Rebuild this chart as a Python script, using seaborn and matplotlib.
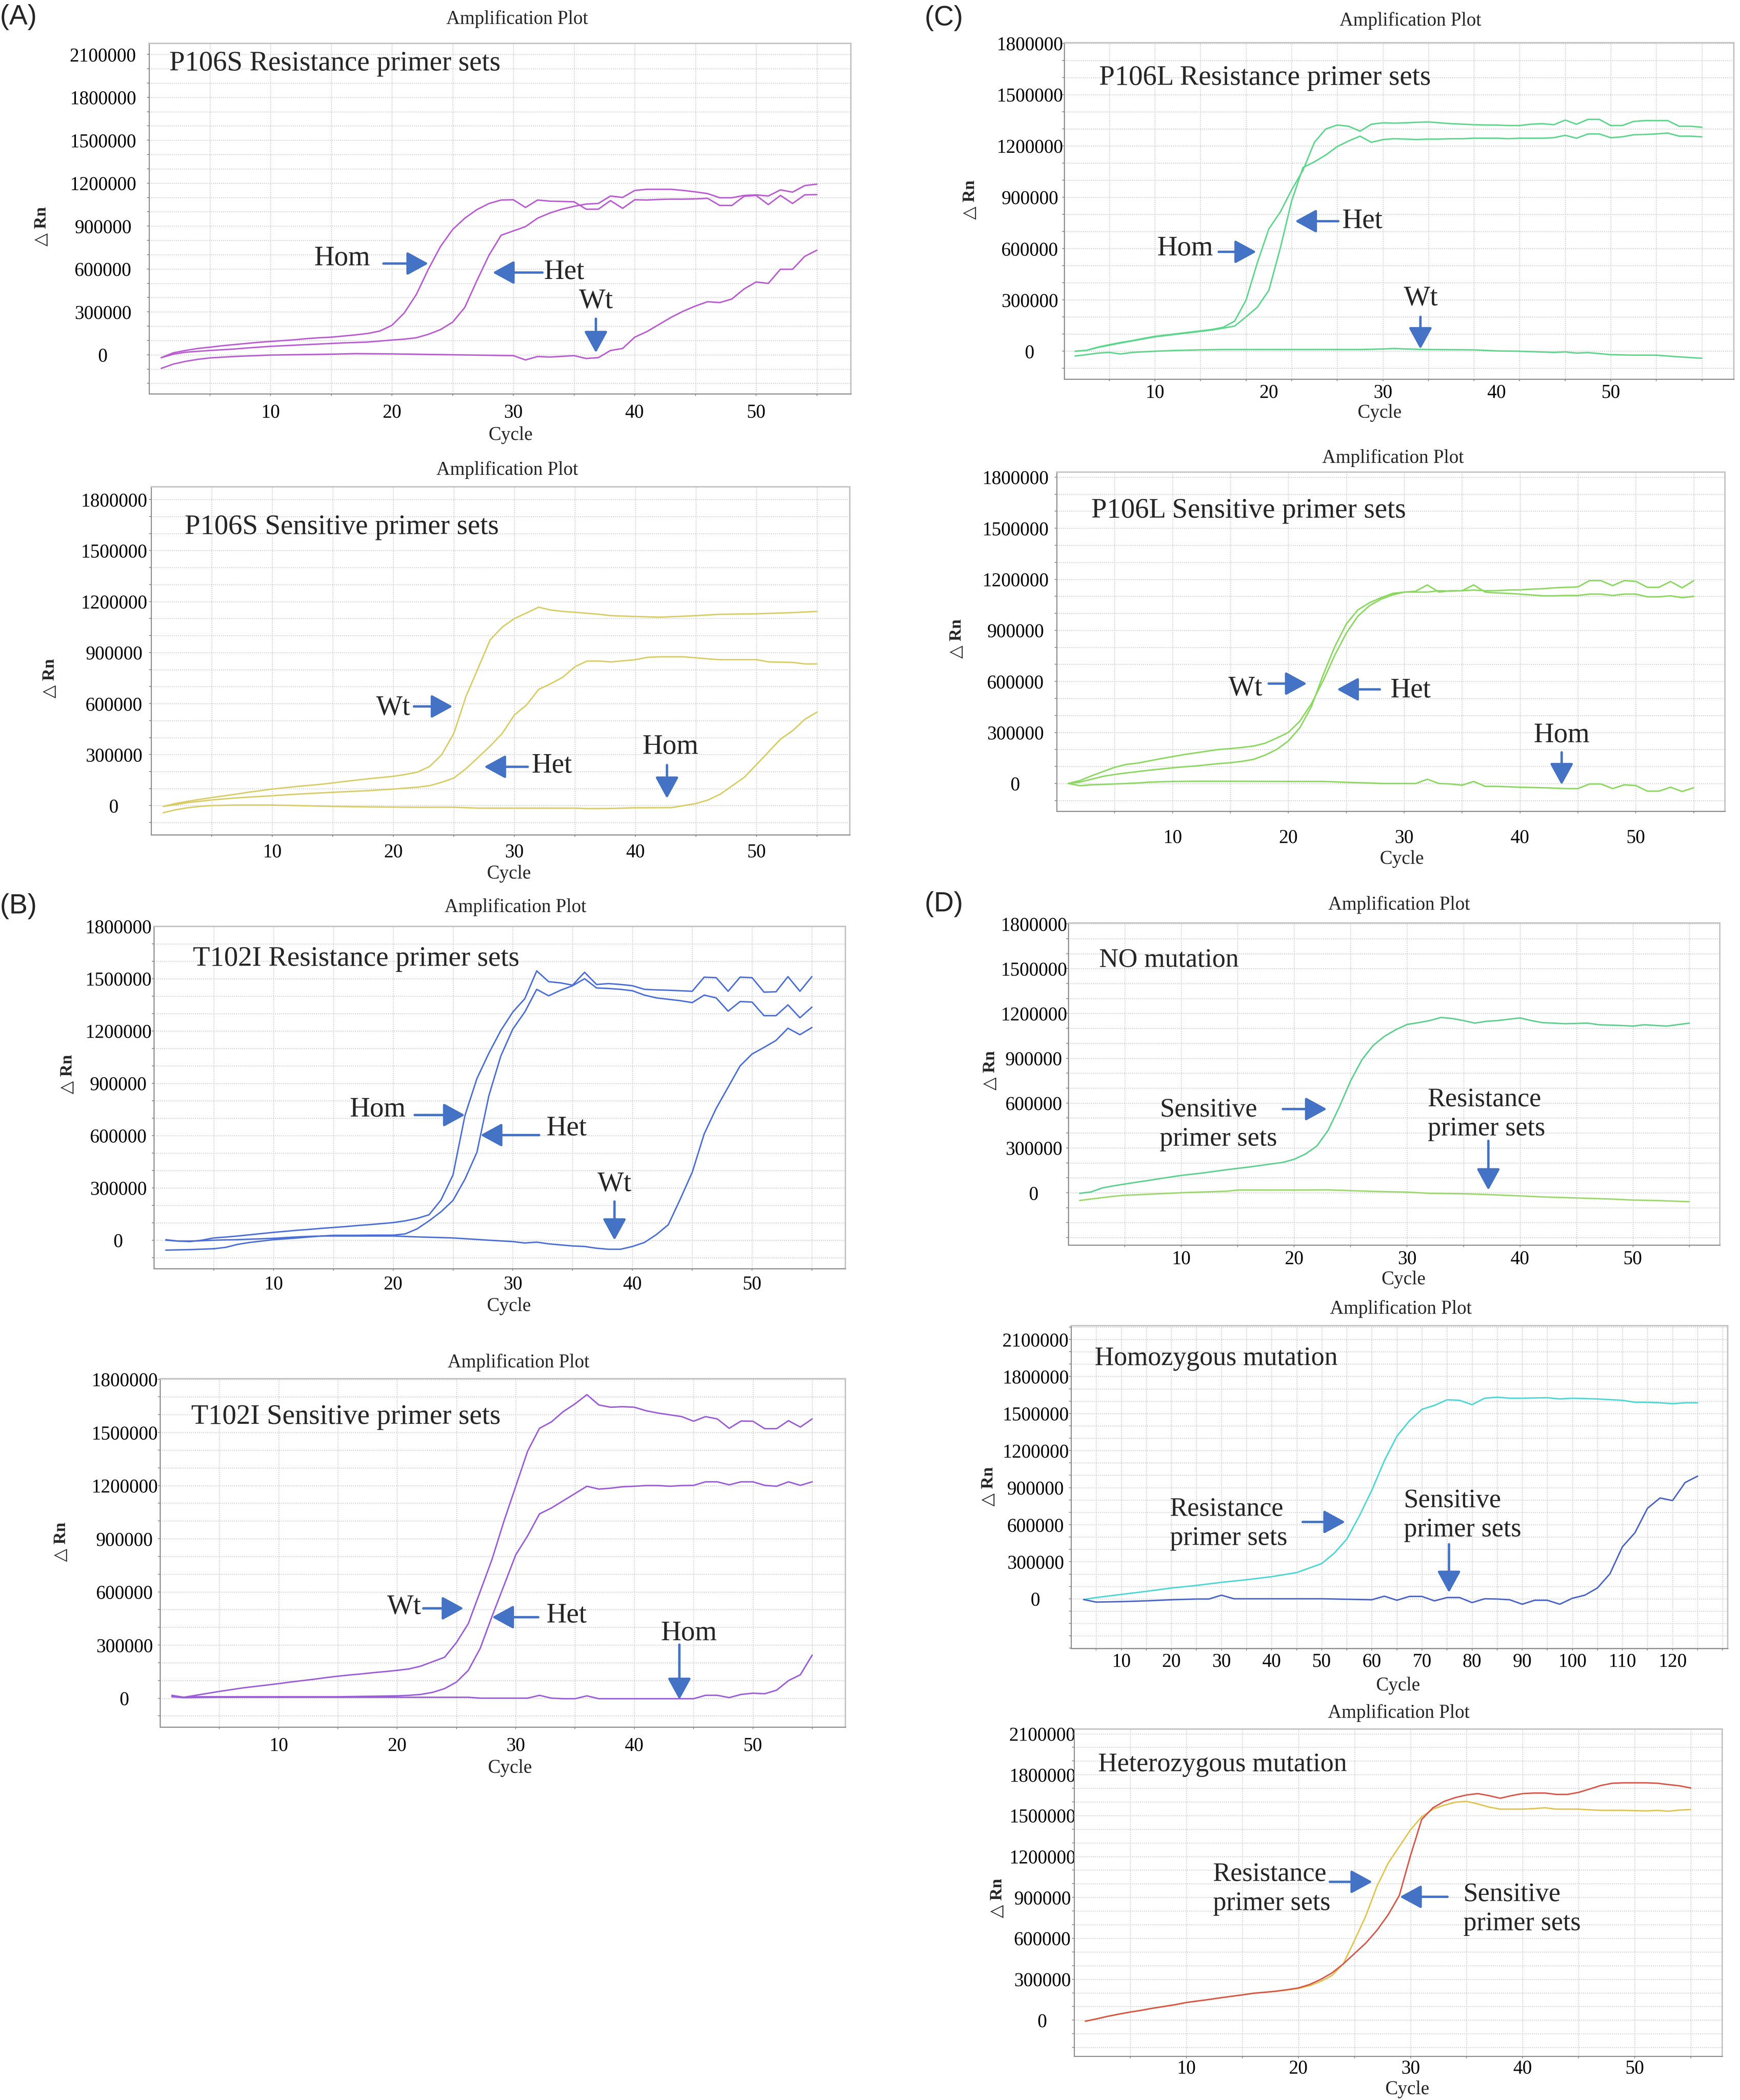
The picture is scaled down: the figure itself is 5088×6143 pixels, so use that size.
import numpy as np
import pandas as pd
import matplotlib
matplotlib.use("Agg")
import matplotlib.pyplot as plt
import seaborn as sns

W, H = 5088, 6143
DPI = 100
PT = 72.0 / DPI   # points per pixel

# ---------------- data ----------------
# (A) P106S resistance primer sets
a1_cyc = list(range(1, 56))
a1_hom = [-20000, 14000, 30000, 44000, 53000, 63000, 71000, 79000, 87000, 93000,
          99000, 105000, 113000, 119000, 123000, 131000, 139000, 149000, 166000, 206000,
          291000, 420000, 598000, 757000, 876000, 955000, 1015000, 1058000, 1082000, 1084000,
          1030000, 1082000, 1074000, 1072000, 1070000, 1018000, 1018000, 1078000, 1024000, 1084000,
          1082000, 1086000, 1088000, 1088000, 1090000, 1094000, 1044000, 1044000, 1108000, 1114000,
          1050000, 1114000, 1058000, 1118000, 1120000]
a1_het = [-20000, 4000, 18000, 24000, 30000, 35000, 40000, 47000, 53000, 59000,
          63000, 67000, 71000, 75000, 79000, 83000, 86000, 89000, 96000, 103000,
          109000, 119000, 143000, 176000, 228000, 331000, 519000, 697000, 836000, 866000,
          896000, 955000, 991000, 1018000, 1038000, 1054000, 1058000, 1110000, 1100000, 1149000,
          1157000, 1157000, 1157000, 1149000, 1139000, 1127000, 1098000, 1098000, 1114000, 1118000,
          1110000, 1153000, 1137000, 1183000, 1193000]
a1_wt_cyc = [1, 2, 3, 4, 5, 7, 10, 15, 17, 20, 25, 30, 31, 32, 33, 35, 36, 37, 38, 39,
             40, 41, 42, 43, 44, 45, 46, 47, 48, 49, 50, 51, 52, 53, 54, 55]
a1_wt = [-95000, -65000, -46000, -32000, -22000, -12000, -2000, 4000, 8000, 6000,
         0, -6000, -36000, -12000, -16000, -6000, -26000, -20000, 30000, 44000,
         123000, 162000, 212000, 262000, 305000, 341000, 371000, 365000, 390000, 460000,
         509000, 499000, 598000, 598000, 688000, 731000]

# (A) P106S sensitive primer sets
a2_wt_cyc = [1, 2, 3, 5, 7, 8, 10, 12, 14, 15, 16, 18, 20, 21, 22, 23, 24, 25, 26, 27,
             28, 29, 30, 31, 32, 33, 34, 35, 37, 38, 40, 42, 45, 47, 50, 53, 55]
a2_wt = [-5000, 12000, 25000, 47000, 67000, 78000, 97000, 112000, 125000, 133000,
         142000, 158000, 172000, 183000, 197000, 230000, 300000, 425000, 642000, 808000,
         975000, 1050000, 1100000, 1133000, 1167000, 1150000, 1142000, 1137000, 1125000, 1117000,
         1112000, 1108000, 1117000, 1125000, 1128000, 1135000, 1142000]
a2_het_cyc = [1, 2, 3, 5, 7, 10, 12, 15, 18, 20, 22, 23, 24, 25, 26, 27, 28, 29, 30, 31,
              32, 33, 34, 35, 36, 37, 38, 40, 41, 42, 44, 46, 47, 49, 50, 51, 53, 54, 55]
a2_het = [-5000, 5000, 17000, 33000, 45000, 58000, 67000, 78000, 88000, 97000,
          108000, 117000, 137000, 162000, 217000, 283000, 350000, 425000, 533000, 592000,
          683000, 717000, 755000, 817000, 850000, 850000, 845000, 858000, 872000, 875000,
          875000, 863000, 858000, 858000, 858000, 845000, 842000, 833000, 833000]
a2_hom_cyc = [1, 2, 3, 4, 5, 7, 10, 12, 15, 18, 22, 25, 27, 30, 35, 36, 38, 40, 43, 44,
              45, 46, 47, 48, 49, 50, 51, 52, 53, 54, 55]
a2_hom = [-42000, -25000, -13000, -5000, 0, 3000, 3000, 0, -5000, -8000,
          -10000, -10000, -15000, -15000, -15000, -18000, -17000, -13000, -12000, 0,
          12000, 33000, 67000, 117000, 167000, 242000, 317000, 392000, 442000, 508000, 550000]

# (B) T102I resistance primer sets
b1_cyc = list(range(1, 56))
b1_hom = [3000, -5000, -8000, 0, 13000, 18000, 24000, 31000, 38000, 45000,
          51000, 57000, 62000, 68000, 73000, 78000, 84000, 89000, 95000, 101000,
          111000, 125000, 146000, 231000, 374000, 715000, 927000, 1073000, 1203000, 1309000,
          1385000, 1545000, 1483000, 1476000, 1463000, 1537000, 1467000, 1472000, 1467000, 1460000,
          1439000, 1436000, 1434000, 1431000, 1428000, 1509000, 1506000, 1428000, 1509000, 1506000,
          1423000, 1425000, 1512000, 1428000, 1512000]
b1_het = [0, -5000, -5000, -3000, 0, 2000, 3000, 6000, 8000, 11000,
          15000, 19000, 22000, 24000, 28000, 28000, 28000, 29000, 29000, 29000,
          36000, 65000, 111000, 163000, 228000, 350000, 504000, 829000, 1057000, 1211000,
          1309000, 1439000, 1402000, 1434000, 1460000, 1500000, 1447000, 1444000, 1439000, 1431000,
          1406000, 1390000, 1382000, 1374000, 1363000, 1406000, 1390000, 1314000, 1369000, 1366000,
          1288000, 1288000, 1350000, 1276000, 1337000]
b1_wt_cyc = [1, 3, 5, 6, 7, 8, 10, 12, 14, 18, 20, 22, 25, 28, 30, 31, 32, 33, 35, 36,
             37, 38, 39, 40, 41, 42, 43, 44, 45, 46, 47, 48, 49, 50, 51, 52, 53, 54, 55]
b1_wt = [-57000, -54000, -49000, -41000, -24000, -13000, 3000, 13000, 24000, 24000,
         24000, 19000, 13000, 0, -8000, -16000, -11000, -21000, -33000, -36000,
         -46000, -52000, -52000, -36000, -13000, 32000, 89000, 236000, 390000, 610000,
         756000, 878000, 1000000, 1068000, 1106000, 1146000, 1216000, 1179000, 1220000]

# (B) T102I sensitive primer sets
b2_cyc = list(range(1, 56))
b2_wt = [16000, 5000, 16000, 27000, 38000, 48000, 58000, 66000, 74000, 82000,
         91000, 99000, 107000, 116000, 124000, 131000, 137000, 144000, 150000, 157000,
         165000, 181000, 206000, 231000, 314000, 421000, 602000, 784000, 998000, 1196000,
         1394000, 1523000, 1559000, 1617000, 1661000, 1713000, 1655000, 1642000, 1645000, 1642000,
         1622000, 1609000, 1599000, 1589000, 1563000, 1589000, 1576000, 1523000, 1564000, 1563000,
         1521000, 1521000, 1566000, 1530000, 1576000]
b2_het_cyc = [1, 2, 3, 10, 15, 20, 21, 22, 23, 24, 25, 26, 27, 28, 29, 30, 31, 32, 33, 34,
              35, 36, 37, 38, 39, 40, 41, 42, 43, 44, 45, 46, 47, 48, 49, 50, 51, 52, 53, 54, 55]
b2_het = [8000, 5000, 8000, 8000, 8000, 13000, 16000, 21000, 33000, 54000,
          91000, 157000, 281000, 462000, 635000, 809000, 916000, 1040000, 1073000, 1114000,
          1155000, 1196000, 1180000, 1185000, 1193000, 1196000, 1200000, 1200000, 1196000, 1200000,
          1201000, 1221000, 1221000, 1204000, 1221000, 1221000, 1201000, 1196000, 1221000, 1201000, 1221000]
b2_hom_cyc = [1, 2, 5, 10, 15, 20, 26, 27, 31, 32, 33, 34, 35, 36, 37, 45, 46, 47, 48, 49,
              50, 51, 52, 53, 54, 55]
b2_hom = [8000, 3000, 5000, 5000, 5000, 5000, 5000, 0, 0, 16000,
          0, -3000, -3000, 13000, -3000, -3000, 16000, 16000, 3000, 21000,
          28000, 25000, 45000, 99000, 132000, 243000]

# (C) P106L resistance primer sets
c1_cyc = list(range(3, 59))
c1_hom = [0, 5000, 24000, 38000, 51000, 62000, 75000, 87000, 95000, 103000,
          111000, 119000, 127000, 140000, 176000, 299000, 519000, 715000, 813000, 943000,
          1058000, 1221000, 1299000, 1322000, 1315000, 1286000, 1327000, 1335000, 1333000, 1335000,
          1338000, 1340000, 1335000, 1330000, 1327000, 1324000, 1322000, 1322000, 1319000, 1319000,
          1327000, 1330000, 1324000, 1351000, 1327000, 1355000, 1355000, 1319000, 1319000, 1343000,
          1348000, 1348000, 1348000, 1315000, 1315000, 1309000]
c1_het = [0, 5000, 22000, 35000, 48000, 60000, 72000, 84000, 92000, 100000,
          108000, 116000, 124000, 135000, 147000, 201000, 258000, 356000, 601000, 878000,
          1074000, 1107000, 1147000, 1196000, 1229000, 1257000, 1221000, 1237000, 1242000, 1240000,
          1237000, 1240000, 1240000, 1242000, 1242000, 1245000, 1245000, 1245000, 1242000, 1245000,
          1245000, 1245000, 1248000, 1262000, 1245000, 1270000, 1270000, 1248000, 1253000, 1265000,
          1267000, 1270000, 1275000, 1257000, 1257000, 1253000]
c1_wt_cyc = [3, 4, 5, 6, 7, 8, 10, 12, 14, 16, 20, 25, 28, 30, 31, 32, 34, 38, 40, 42,
             45, 46, 47, 48, 50, 52, 54, 56, 58]
c1_wt = [-28000, -20000, -11000, -7000, -16000, -7000, 0, 5000, 8000, 10000,
         10000, 10000, 10000, 13000, 16000, 13000, 10000, 8000, 2000, 0,
         -7000, -4000, -11000, -8000, -20000, -23000, -23000, -33000, -41000]

# (C) P106L sensitive primer sets
c2_cyc = list(range(1, 56))
c2_wt = [0, 17000, 45000, 70000, 95000, 112000, 120000, 133000, 146000, 158000,
         170000, 180000, 190000, 200000, 205000, 212000, 220000, 237000, 267000, 300000,
         367000, 470000, 603000, 753000, 883000, 983000, 1045000, 1083000, 1108000, 1125000,
         1130000, 1167000, 1125000, 1133000, 1133000, 1167000, 1125000, 1120000, 1117000, 1113000,
         1108000, 1103000, 1103000, 1105000, 1105000, 1113000, 1113000, 1105000, 1113000, 1113000,
         1097000, 1097000, 1103000, 1092000, 1100000]
c2_het = [0, 8000, 25000, 42000, 53000, 62000, 70000, 78000, 85000, 92000,
          98000, 103000, 110000, 117000, 122000, 130000, 142000, 167000, 200000, 250000,
          328000, 453000, 637000, 803000, 937000, 1020000, 1062000, 1092000, 1117000, 1125000,
          1125000, 1125000, 1133000, 1130000, 1133000, 1137000, 1133000, 1133000, 1137000, 1138000,
          1142000, 1145000, 1150000, 1153000, 1155000, 1192000, 1192000, 1163000, 1192000, 1188000,
          1153000, 1153000, 1187000, 1150000, 1192000]
c2_hom_cyc = [1, 2, 3, 5, 7, 8, 10, 12, 15, 20, 23, 25, 27, 28, 30, 31, 32, 33, 34, 35,
              36, 37, 38, 40, 42, 44, 45, 46, 47, 48, 49, 50, 51, 52, 53, 54, 55]
c2_hom = [0, -13000, -8000, -3000, 3000, 8000, 12000, 13000, 13000, 12000,
          12000, 7000, 3000, 0, 0, 0, 25000, 0, -3000, -10000,
          12000, -17000, -17000, -22000, -25000, -30000, -30000, -3000, -3000, -30000,
          -8000, -12000, -45000, -45000, -22000, -47000, -25000]

# (D) no mutation
d1_sen_cyc = [1, 2, 3, 4, 5, 6, 7, 8, 10, 12, 14, 15, 16, 18, 19, 20, 21, 22, 23, 24,
              25, 26, 27, 28, 29, 30, 31, 32, 33, 34, 35, 36, 37, 38, 39, 40, 41, 42, 43, 44,
              46, 47, 49, 50, 51, 53, 55]
d1_sen = [-4000, 5000, 32000, 46000, 58000, 70000, 81000, 93000, 116000, 133000,
          154000, 163000, 172000, 193000, 203000, 224000, 259000, 312000, 417000, 574000,
          749000, 890000, 986000, 1047000, 1091000, 1126000, 1138000, 1152000, 1173000, 1166000,
          1152000, 1135000, 1147000, 1152000, 1161000, 1170000, 1152000, 1138000, 1135000, 1131000,
          1135000, 1124000, 1119000, 1115000, 1124000, 1115000, 1135000]
d1_res_cyc = [1, 2, 3, 4, 5, 6, 8, 10, 12, 14, 15, 20, 23, 25, 27, 30, 32, 35, 37, 40,
              42, 45, 48, 50, 52, 55]
d1_res = [-52000, -42000, -33000, -24000, -17000, -14000, -7000, 0, 5000, 10000,
          18000, 18000, 19000, 14000, 9000, 4000, -4000, -7000, -12000, -21000,
          -28000, -35000, -42000, -49000, -52000, -60000]

# (D) homozygous mutation
d2_res_cyc = [2.5, 5, 10, 15, 20, 25, 30, 35, 40, 45, 50, 52.5, 55, 57.5, 60, 62.5, 65, 67.5, 70, 72.5,
              75, 77.5, 80, 82.5, 85, 87.5, 90, 95, 97.5, 100, 105, 110, 112.5, 115, 117.5, 120, 122.5, 125]
d2_res = [-6000, 10000, 35000, 60000, 87000, 108000, 133000, 154000, 179000, 212000,
          285000, 369000, 483000, 670000, 879000, 1118000, 1316000, 1441000, 1534000, 1566000,
          1611000, 1607000, 1572000, 1624000, 1632000, 1624000, 1624000, 1628000, 1618000, 1624000,
          1618000, 1607000, 1591000, 1591000, 1587000, 1580000, 1587000, 1587000]
d2_sen_cyc = [2.5, 5, 10, 15, 20, 25, 27.5, 30, 32.5, 35, 40, 45, 50, 55, 60, 62.5, 65, 67.5, 70, 72.5,
              75, 77.5, 80, 82.5, 85, 87.5, 90, 92.5, 95, 97.5, 100, 102.5, 105, 107.5, 110, 112.5,
              115, 117.5, 120, 122.5, 125]
d2_sen = [-6000, -27000, -23000, -17000, -8000, -2000, -2000, 29000, 0, 0,
          0, 0, 0, -4000, -8000, 21000, -12000, 19000, 19000, -17000,
          10000, 10000, -31000, 0, -2000, -8000, -44000, -12000, -12000, -44000,
          4000, 29000, 87000, 202000, 421000, 535000, 733000, 816000, 795000, 941000, 993000]

# (D) heterozygous mutation
d3_cyc = list(range(1, 56))
d3_sen = [-8000, 9000, 28000, 44000, 59000, 72000, 87000, 100000, 113000, 129000,
          140000, 151000, 163000, 174000, 185000, 197000, 204000, 212000, 223000, 236000,
          261000, 299000, 346000, 412000, 488000, 564000, 658000, 772000, 914000, 1207000,
          1472000, 1557000, 1604000, 1632000, 1651000, 1661000, 1646000, 1627000, 1646000, 1661000,
          1665000, 1665000, 1655000, 1655000, 1670000, 1695000, 1721000, 1737000, 1740000, 1740000,
          1740000, 1737000, 1727000, 1718000, 1702000]
d3_res = [-8000, 9000, 28000, 44000, 59000, 72000, 87000, 100000, 113000, 129000,
          140000, 151000, 163000, 174000, 185000, 197000, 204000, 212000, 221000, 232000,
          252000, 284000, 327000, 412000, 583000, 762000, 980000, 1150000, 1273000, 1396000,
          1491000, 1547000, 1576000, 1598000, 1604000, 1585000, 1562000, 1547000, 1547000, 1547000,
          1551000, 1557000, 1547000, 1547000, 1547000, 1542000, 1538000, 1538000, 1538000, 1536000,
          1534000, 1538000, 1532000, 1540000, 1544000]

# ---------------- style ----------------
sns.set_theme(style="white")
plt.rcParams["font.family"] = ["Liberation Serif", "DejaVu Serif"]
ARROW = "#4472C4"
GRID = "#c9c9c9"

fig = plt.figure(figsize=(W / DPI, H / DPI), dpi=DPI)
fig.patch.set_facecolor("white")


def ftext(x, y, s, **kw):
    fig.text(x / W, 1 - y / H, s, **kw)


def make_panel(box, xlim, ylim, ytop, xticks, xgrid, ylab_off, xlab_off,
               title_xy, cycle_xy, drn_xy):
    l, t, r, b = box
    ax = fig.add_axes([l / W, 1 - b / H, (r - l) / W, (b - t) / H])
    ax.set_facecolor("white")
    ax.set_xlim(*xlim)
    ax.set_ylim(*ylim)
    yt = np.arange(0, ytop + 1, 300000)
    ax.set_yticks(yt)
    ax.set_yticklabels([str(v) for v in yt])
    ygrid = [v for v in range(-500000, int(ylim[1]), 100000) if v > ylim[0]]
    ax.set_yticks(ygrid, minor=True)
    ax.set_xticks(xticks)
    ax.set_xticklabels([str(v) for v in xticks])
    ax.set_xticks(xgrid, minor=True)
    ax.xaxis.remove_overlapping_locs = False
    ax.yaxis.remove_overlapping_locs = False
    ax.grid(False)
    ax.grid(which="minor", linestyle=(0, (1, 1.4)), color=GRID, lw=1.8)
    ax.tick_params(which="major", length=0, labelsize=40, colors="black")
    ax.tick_params(which="minor", length=4, width=1.5, color="#808080",
                   bottom=True, left=True)
    ax.tick_params(axis="y", which="major", pad=ylab_off * PT)
    ax.tick_params(axis="x", which="major", pad=(xlab_off - 20) * PT)
    for lab in ax.get_yticklabels():
        lab.set_horizontalalignment("center")
    for side in ["left", "bottom"]:
        ax.spines[side].set_color("#8a8a8a")
        ax.spines[side].set_linewidth(2.2)
    for side in ["top", "right"]:
        ax.spines[side].set_color("#c4c4c4")
        ax.spines[side].set_linewidth(3)
    ftext(*title_xy, "Amplification Plot", ha="center", va="center", fontsize=40)
    ftext(*cycle_xy, "Cycle", ha="center", va="center", fontsize=40)
    ftext(*drn_xy, "\u25b3 Rn", ha="center", va="center", fontsize=36,
          fontweight="bold", rotation=90, family=["Liberation Serif", "DejaVu Sans"])
    return ax


def curve(ax, cyc, vals, color):
    df = pd.DataFrame({"Cycle": cyc, "dRn": vals})
    sns.lineplot(data=df, x="Cycle", y="dRn", color=color, lw=3, ax=ax,
                 estimator=None, legend=False)
    ax.set_xlabel("")
    ax.set_ylabel("")


def arrow(ax, tail, tip):
    ax.annotate("", xy=tip, xytext=tail,
                arrowprops=dict(arrowstyle="-|>,head_length=0.55,head_width=0.3",
                                color=ARROW, lw=5, shrinkA=0, shrinkB=0,
                                mutation_scale=70))


def label(ax, x, y, s, size=59, ha="center"):
    ax.text(x, y, s, ha=ha, va="center", fontsize=size, linespacing=1.25)


x5 = list(range(5, 60, 5))
x10 = [10, 20, 30, 40, 50]

# ---- (A) top ----
ax = make_panel((436, 127, 2488, 1152), (0, 57.8), (-273000, 2177000), 2100000,
                x10, x5, 135, 50, (1512, 56), (1493, 1273), (122, 663))
c = "#BA5CD2"
curve(ax, a1_cyc, a1_hom, c)
curve(ax, a1_cyc, a1_het, c)
curve(ax, a1_wt_cyc, a1_wt, c)
label(ax, 1.65, 2035000, "P106S Resistance primer sets", ha="left")
label(ax, 15.9, 673000, "Hom")
arrow(ax, (19.3, 638000), (23.0, 638000))
label(ax, 34.2, 578000, "Het")
arrow(ax, (32.4, 575000), (28.3, 575000))
label(ax, 36.8, 376000, "Wt")
arrow(ax, (36.8, 252000), (36.8, 14000))

# ---- (A) bottom ----
ax = make_panel((442, 1424, 2485, 2442), (0, 57.7), (-172000, 1875000), 1800000,
                x10, x5, 109, 45, (1483, 1375), (1488, 2556), (146, 1984))
c = "#D8CD68"
curve(ax, a2_wt_cyc, a2_wt, c)
curve(ax, a2_het_cyc, a2_het, c)
curve(ax, a2_hom_cyc, a2_hom, c)
label(ax, 2.78, 1638000, "P106S Sensitive primer sets", ha="left")
label(ax, 20.0, 575000, "Wt")
arrow(ax, (21.7, 583000), (24.9, 583000))
label(ax, 33.1, 233000, "Het")
arrow(ax, (31.1, 228000), (27.5, 228000))
label(ax, 42.9, 345000, "Hom")
arrow(ax, (42.6, 238000), (42.6, 42000))

# ---- (B) top ----
ax = make_panel((450, 2710, 2472, 3711), (0, 57.8), (-163000, 1800000), 1800000,
                x10, x5, 104, 41, (1507, 2654), (1488, 3821), (198, 3143))
c = "#4C6FD6"
curve(ax, b1_cyc, b1_hom, c)
curve(ax, b1_cyc, b1_het, c)
curve(ax, b1_wt_cyc, b1_wt, c)
label(ax, 3.26, 1613000, "T102I Resistance primer sets", ha="left")
label(ax, 18.7, 749000, "Hom")
arrow(ax, (21.8, 718000), (26.0, 718000))
label(ax, 34.5, 640000, "Het")
arrow(ax, (32.2, 603000), (27.3, 603000))
label(ax, 38.5, 321000, "Wt")
arrow(ax, (38.5, 222000), (38.5, 0))

# ---- (B) bottom ----
ax = make_panel((468, 4033, 2472, 5052), (0, 57.8), (-163000, 1803000), 1800000,
                x10, x5, 104, 49, (1516, 3986), (1491, 5172), (179, 4511))
c = "#9B5DD8"
curve(ax, b2_cyc, b2_wt, c)
curve(ax, b2_het_cyc, b2_het, c)
curve(ax, b2_hom_cyc, b2_hom, c)
label(ax, 2.63, 1587000, "T102I Sensitive primer sets", ha="left")
label(ax, 20.6, 515000, "Wt")
arrow(ax, (22.2, 507000), (25.6, 507000))
label(ax, 34.3, 465000, "Het")
arrow(ax, (31.9, 457000), (28.0, 457000))
label(ax, 44.6, 366000, "Hom")
arrow(ax, (43.8, 302000), (43.8, -8000))

# ---- (C) top ----
ax = make_panel((3112, 125, 5070, 1109), (2.05, 60.8), (-163000, 1803000), 1800000,
                x10, list(range(6, 60, 4)), 101, 34, (4124, 61), (4034, 1208), (2837, 584))
c = "#5ED68C"
curve(ax, c1_cyc, c1_hom, c)
curve(ax, c1_cyc, c1_het, c)
curve(ax, c1_wt_cyc, c1_wt, c)
label(ax, 5.1, 1596000, "P106L Resistance primer sets", ha="left")
label(ax, 12.65, 600000, "Hom")
arrow(ax, (15.6, 581000), (18.9, 581000))
label(ax, 28.2, 759000, "Het")
arrow(ax, (26.1, 760000), (22.3, 760000))
label(ax, 33.35, 310000, "Wt")
arrow(ax, (33.3, 201000), (33.3, 13000))

# ---- (C) bottom ----
ax = make_panel((3090, 1381, 5044, 2373), (0, 57.7), (-163000, 1830000), 1800000,
                x10, x5, 121, 72, (4073, 1340), (4099, 2513), (2798, 1869))
c = "#8BD860"
curve(ax, c2_cyc, c2_wt, c)
curve(ax, c2_cyc, c2_het, c)
curve(ax, c2_hom_cyc, c2_hom, c)
label(ax, 2.98, 1603000, "P106L Sensitive primer sets", ha="left")
label(ax, 16.3, 558000, "Wt")
arrow(ax, (18.3, 587000), (21.6, 587000))
label(ax, 30.55, 545000, "Het")
arrow(ax, (27.9, 553000), (24.2, 553000))
label(ax, 43.6, 283000, "Hom")
arrow(ax, (43.6, 183000), (43.6, -8000))

# ---- (D) top ----
ax = make_panel((3124, 2700, 5029, 3642), (0, 57.7), (-350000, 1805000), 1800000,
                x10, x5, 101, 36, (4091, 2647), (4104, 3743), (2896, 3131))
curve(ax, d1_sen_cyc, d1_sen, "#5DD08E")
curve(ax, d1_res_cyc, d1_res, "#9BD86A")
label(ax, 2.74, 1555000, "NO mutation", size=56, ha="left")
label(ax, 8.1, 455000, "Sensitive\nprimer sets", size=56, ha="left")
arrow(ax, (19.0, 560000), (22.9, 560000))
label(ax, 31.84, 525000, "Resistance\nprimer sets", size=56, ha="left")
arrow(ax, (37.2, 347000), (37.2, 17500))

# ---- (D) middle ----
ax = make_panel((3132, 3878, 5052, 4822), (0, 131), (-402000, 2211000), 2100000,
                list(range(10, 121, 10)), list(range(5, 131, 5)), 104, 34,
                (4096, 3829), (4088, 4931), (2891, 4348))
curve(ax, d2_res_cyc, d2_res, "#4ED7D4")
curve(ax, d2_sen_cyc, d2_sen, "#4A63C6")
label(ax, 4.7, 1944000, "Homozygous mutation", size=56, ha="left")
label(ax, 19.7, 606000, "Resistance\nprimer sets", size=56, ha="left")
arrow(ax, (46.2, 622000), (54.7, 622000))
label(ax, 66.4, 675000, "Sensitive\nprimer sets", size=56, ha="left")
arrow(ax, (75.4, 441000), (75.4, 50000))

# ---- (D) bottom ----
ax = make_panel((3141, 5058, 5036, 6015), (0, 57.8), (-265000, 2134000), 2100000,
                x10, x5, 93, 31, (4090, 5011), (4115, 6112), (2917, 5552))
curve(ax, d3_cyc, d3_res, "#E0C552")
curve(ax, d3_cyc, d3_sen, "#D9574A")
label(ax, 2.13, 1873000, "Heterozygous mutation", size=56, ha="left")
label(ax, 12.37, 961000, "Resistance\nprimer sets", size=56, ha="left")
arrow(ax, (22.8, 1014000), (26.6, 1014000))
label(ax, 34.7, 813000, "Sensitive\nprimer sets", size=56, ha="left")
arrow(ax, (33.3, 904000), (29.05, 904000))

# panel letters
for s, x, y in [("(A)", 0, 50), ("(B)", 0, 2651), ("(C)", 2704, 53), ("(D)", 2704, 2645)]:
    ftext(x, y, s, ha="left", va="center", fontsize=58, family="Liberation Sans")

fig.savefig("out.png", dpi=DPI, facecolor="white")
